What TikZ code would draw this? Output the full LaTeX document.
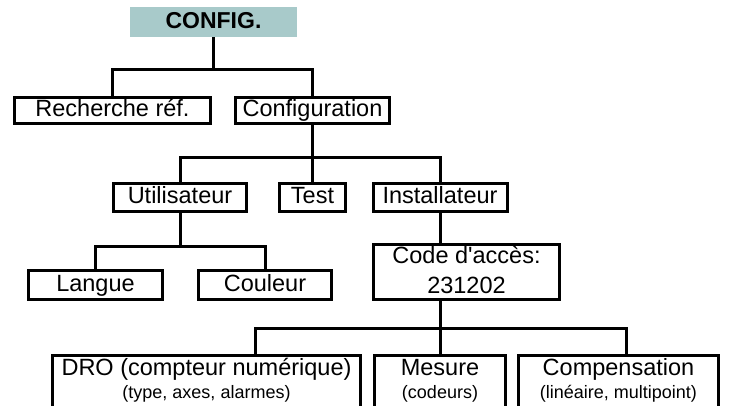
\documentclass[tikz,border=0pt]{standalone}
\usepackage{fontspec}
\setmainfont{Liberation Sans}
\definecolor{cfgfill}{RGB}{168,202,202}
\tikzset{
  conn/.style={line width=3pt},
  box/.style={draw, line width=3pt, inner sep=0pt, text height=17.5pt, text depth=5pt, font=\fontsize{23.5}{28}\selectfont},
  bigtxt/.style={inner sep=0pt, font=\fontsize{23.5}{28}\selectfont, anchor=base},
  smalltxt/.style={inner sep=0pt, font=\fontsize{18}{22}\selectfont, anchor=base},
}
\begin{document}
\begin{tikzpicture}[x=1pt,y=-1pt]
\useasboundingbox (0,0) rectangle (737,406);
\clip (0,0) rectangle (737,406);
% level 0
\node[fill=cfgfill, inner sep=0pt, minimum width=167pt, minimum height=30pt, text height=17.5pt, text depth=5pt, font=\bfseries\fontsize{23}{27}\selectfont] (config) at (213.5,22) {CONFIG.};
% level 1
\node[box, minimum width=196pt, minimum height=26pt] (rech) at (112.5,110.5) {Recherche réf.};
\node[box, minimum width=154pt, minimum height=26pt] (conf) at (312.5,110.5) {Configuration};
% level 2
\node[box, minimum width=133pt, minimum height=28pt] (util) at (180,197.5) {Utilisateur};
\node[box, minimum width=66pt, minimum height=28pt] (test) at (312.5,197.5) {Test};
\node[box, minimum width=134pt, minimum height=28pt] (inst) at (440,197.5) {Installateur};
% level 3
\node[box, minimum width=134pt, minimum height=29pt] (lang) at (95.5,285) {Langue};
\node[box, minimum width=133pt, minimum height=29pt] (coul) at (265,285) {Couleur};
\node[box, minimum width=186pt, minimum height=55pt] (code) at (466.5,272) {};
\node[bigtxt] (codea) at (466.5,263.3) {Code d\textquotesingle accès:};
\node[bigtxt] (codeb) at (466.5,293.3) {231202};
% level 4 (cut off at the bottom)
\node[box, anchor=north, minimum width=308pt, minimum height=80pt] (dro) at (206.5,354.5) {};
\node[box, anchor=north, minimum width=131pt, minimum height=80pt] (mes) at (440,354.5) {};
\node[box, anchor=north, minimum width=200pt, minimum height=80pt] (comp) at (618.5,354.5) {};
\node[bigtxt] (droa) at (206.5,376) {DRO (compteur numérique)};
\node[smalltxt] (drob) at (206.5,398) {(type, axes, alarmes)};
\node[bigtxt] (mesa) at (440,376) {Mesure};
\node[smalltxt] (mesb) at (440,398) {(codeurs)};
\node[bigtxt] (compa) at (618.5,376) {Compensation};
\node[smalltxt] (compb) at (618.5,398) {(linéaire, multipoint)};
% connectors
\coordinate (j1) at (213.5,70);
\draw[conn] (config.south) -- (j1);
\draw[conn] (rech.north) |- (j1) -| (conf.north);
\coordinate (j2) at (312.5,158);
\draw[conn] (conf.south) -- (test.north);
\draw[conn] (util.north) |- (j2) -| (inst.north);
\coordinate (j3) at (180,247);
\draw[conn] (util.south) -- (j3);
\draw[conn] (lang.north) |- (j3) -| (coul.north);
\draw[conn] (inst.south) -- (inst.south |- code.north);
\coordinate (j4) at (440,329);
\draw[conn] (inst.south |- code.south) -- (j4) -- (mes.north);
\coordinate (k1) at (255,329);
\coordinate (k3) at (626,329);
\draw[conn] (k1 |- dro.north) -- (k1) -- (k3) -- (k3 |- comp.north);
\end{tikzpicture}
\end{document}
